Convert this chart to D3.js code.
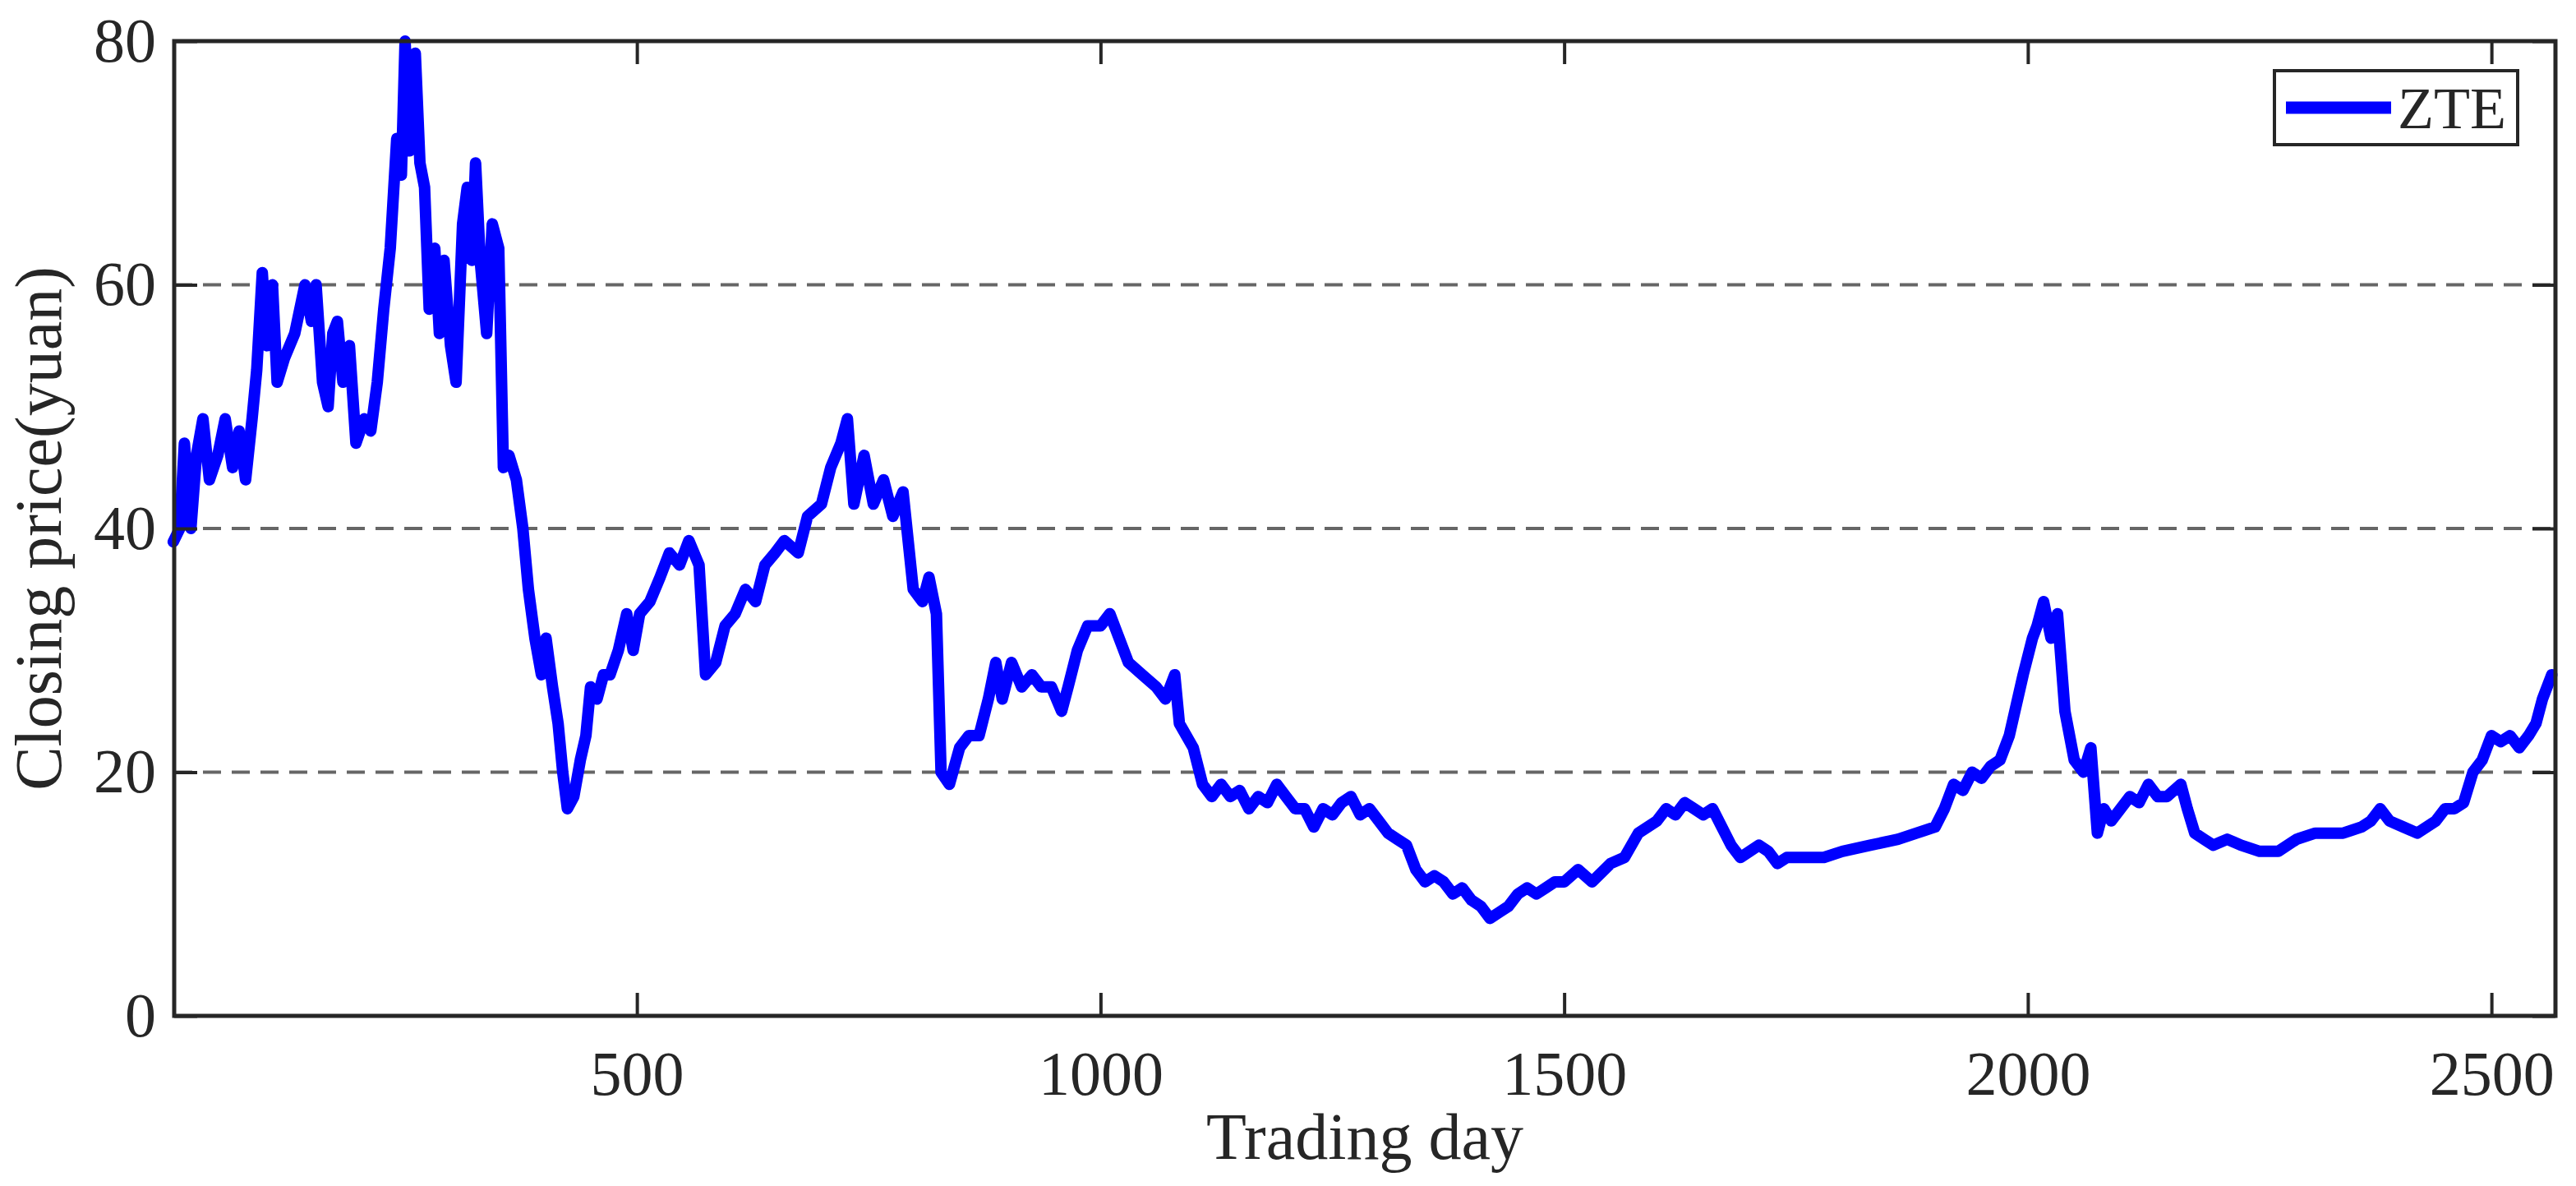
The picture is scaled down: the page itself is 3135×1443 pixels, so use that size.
<!DOCTYPE html>
<html>
<head>
<meta charset="utf-8">
<script src="https://cdn.jsdelivr.net/npm/d3@7"></script>
<style>
  body { margin: 0; background: white; }
  text { font-family: "Liberation Serif", "Times New Roman", serif; fill: #262626; }
</style>
</head>
<body>
<svg id="chart" width="3135" height="1443"></svg>
<script>
// trading day / closing price pairs (rows kept the same length)
const days = [
  0, 7, 12, 19, 25, 32, 39, 48, 56, 64, 71, 78, 85, 90, 96, 101, 107, 112, 120, 131,
  142, 149, 154, 161, 167, 172, 177, 183, 190, 197, 206, 213, 220, 227, 234, 241, 246, 250, 255, 261,
  266, 271, 276, 282, 287, 292, 299, 305, 312, 317, 322, 326, 331, 338, 344, 351, 356, 362, 370, 377,
  383, 390, 397, 402, 409, 415, 420, 425, 432, 439, 445, 450, 457, 464, 471, 480, 489, 496, 503, 514,
  525, 535, 546, 556, 567, 574, 585, 595, 606, 617, 628, 638, 649, 659, 674, 684, 699, 709, 720, 727,
  734, 745, 755, 766, 776, 787, 798, 808, 815, 823, 828, 837, 848, 858, 869, 879, 887, 894, 904, 915,
  926, 936, 947, 958, 965, 975, 986, 1000, 1010, 1030, 1045, 1060, 1070, 1080, 1085, 1100, 1110, 1120, 1130, 1140,
  1150, 1160, 1170, 1180, 1190, 1200, 1210, 1220, 1230, 1240, 1250, 1260, 1270, 1280, 1290, 1300, 1310, 1320, 1330, 1340,
  1350, 1360, 1370, 1380, 1390, 1400, 1410, 1420, 1430, 1440, 1450, 1460, 1470, 1480, 1490, 1500, 1515, 1530, 1550, 1565,
  1580, 1600, 1610, 1620, 1630, 1640, 1650, 1660, 1670, 1680, 1690, 1700, 1710, 1720, 1730, 1740, 1760, 1780, 1800, 1830,
  1860, 1880, 1900, 1910, 1920, 1930, 1940, 1950, 1960, 1970, 1980, 1995, 2005, 2010, 2017, 2025, 2032, 2040, 2050, 2060,
  2068, 2075, 2082, 2090, 2100, 2110, 2120, 2130, 2140, 2150, 2165, 2172, 2180, 2190, 2200, 2215, 2230, 2250, 2270, 2290,
  2310, 2325, 2340, 2360, 2370, 2380, 2390, 2405, 2420, 2440, 2450, 2460, 2470, 2480, 2490, 2500, 2510, 2520, 2530, 2540,
  2548, 2555, 2565
];
const prices = [
  38.9, 40, 47, 40, 46, 49, 44, 46, 49, 45, 48, 44, 49, 53, 61, 55, 60, 52, 54, 56,
  60, 57, 60, 52, 50, 56, 57, 52, 55, 47, 49, 48, 52, 58, 63, 72, 69, 80, 71, 79,
  70, 68, 58, 63, 56, 62, 55, 52, 65, 68, 62, 70, 62, 56, 65, 63, 45, 46, 44, 40,
  35, 31, 28, 31, 27, 24, 20, 17, 18, 21, 23, 27, 26, 28, 28, 30, 33, 30, 33, 34,
  36, 38, 37, 39, 37, 28, 29, 32, 33, 35, 34, 37, 38, 39, 38, 41, 42, 45, 47, 49,
  42, 46, 42, 44, 41, 43, 35, 34, 36, 33, 20, 19, 22, 23, 23, 26, 29, 26, 29, 27,
  28, 27, 27, 25, 27, 30, 32, 32, 33, 29, 28, 27, 26, 28, 24, 22, 19, 18, 19, 18,
  18.5, 17, 18, 17.5, 19, 18, 17, 17, 15.5, 17, 16.5, 17.5, 18, 16.5, 17, 16, 15, 14.5, 14, 12,
  11, 11.5, 11, 10, 10.5, 9.5, 9, 8, 8.5, 9, 10, 10.5, 10, 10.5, 11, 11, 12, 11, 12.5, 13,
  15, 16, 17, 16.5, 17.5, 17, 16.5, 17, 15.5, 14, 13, 13.5, 14, 13.5, 12.5, 13, 13, 13, 13.5, 14,
  14.5, 15, 15.5, 17, 19, 18.5, 20, 19.5, 20.5, 21, 23, 28, 31, 32, 34, 31, 33, 25, 21, 20,
  22, 15, 17, 16, 17, 18, 17.5, 19, 18, 18, 19, 17, 15, 14.5, 14, 14.5, 14, 13.5, 13.5, 14.5,
  15, 15, 15, 15.5, 16, 17, 16, 15.5, 15, 16, 17, 17, 17.5, 20, 21, 23, 22.5, 23, 22, 23,
  24, 26, 28
];
const xTicks = [500, 1000, 1500, 2000, 2500];
const yTicks = [0, 20, 40, 60, 80];
const gridValues = [20, 40, 60];
const seriesName = 'ZTE';

const margin = { left: 212, right: 25, top: 50, bottom: 207 };
const width = 3135, height = 1443;
const svg = d3.select('#chart');

const x = d3.scaleLinear().domain([1, 2569]).range([margin.left, width - margin.right]);
const y = d3.scaleLinear().domain([0, 80]).range([height - margin.bottom, margin.top]);

// dashed grid
svg.append('g')
  .selectAll('line')
  .data(gridValues)
  .join('line')
  .attr('x1', x.range()[0]).attr('x2', x.range()[1])
  .attr('y1', d => y(d)).attr('y2', d => y(d))
  .attr('stroke', '#666').attr('stroke-width', 4)
  .attr('stroke-dasharray', '22,13');

const data = days.map((d, i) => ({ day: d, price: prices[i] }));
const line = d3.line().x(d => x(d.day)).y(d => y(d.price));

svg.append('path')
  .datum(data)
  .attr('d', line)
  .attr('fill', 'none')
  .attr('stroke', '#0000ff')
  .attr('stroke-width', 14)
  .attr('stroke-linejoin', 'round')
  .attr('stroke-linecap', 'round');

// axes with inward ticks, boxed
const tickLen = 28;
const fontSize = 76;
const styleAxis = g => {
  g.select('.domain').remove();
  g.selectAll('line').attr('stroke', '#262626').attr('stroke-width', 4);
  g.selectAll('text').style('font-size', fontSize + 'px').attr('fill', '#262626');
};

svg.append('g')
  .attr('transform', `translate(0,${y(0)})`)
  .call(d3.axisBottom(x).tickValues(xTicks).tickSize(-tickLen).tickPadding(42).tickFormat(d3.format('d')))
  .call(styleAxis);
svg.append('g')
  .attr('transform', `translate(0,${y(80)})`)
  .call(d3.axisTop(x).tickValues(xTicks).tickSize(-tickLen).tickFormat(''))
  .call(styleAxis);
svg.append('g')
  .attr('transform', `translate(${x.range()[0]},0)`)
  .call(d3.axisLeft(y).tickValues(yTicks).tickSize(-tickLen).tickPadding(22))
  .call(styleAxis);
svg.append('g')
  .attr('transform', `translate(${x.range()[1]},0)`)
  .call(d3.axisRight(y).tickValues(yTicks).tickSize(-tickLen).tickFormat(''))
  .call(styleAxis);

svg.append('rect')
  .attr('x', x.range()[0]).attr('y', y(80))
  .attr('width', x.range()[1] - x.range()[0]).attr('height', y(0) - y(80))
  .attr('fill', 'none').attr('stroke', '#262626').attr('stroke-width', 5);

// axis titles
svg.append('text')
  .attr('x', (x.range()[0] + x.range()[1]) / 2).attr('y', 1410)
  .attr('text-anchor', 'middle').style('font-size', '80px')
  .text('Trading day');
svg.append('text')
  .attr('transform', `translate(74,${(y(0) + y(80)) / 2}) rotate(-90)`)
  .attr('text-anchor', 'middle').style('font-size', '80px')
  .text('Closing price(yuan)');

// legend
const lg = svg.append('g').attr('transform', 'translate(2768,86)');
lg.append('rect').attr('width', 296).attr('height', 90)
  .attr('fill', 'white').attr('stroke', '#262626').attr('stroke-width', 4);
lg.append('line').attr('x1', 14).attr('x2', 142).attr('y1', 45).attr('y2', 45)
  .attr('stroke', '#0000ff').attr('stroke-width', 15);
lg.append('text').attr('x', 150).attr('y', 70).style('font-size', '72px')
  .attr('fill', '#000').text(seriesName);
</script>
</body>
</html>
